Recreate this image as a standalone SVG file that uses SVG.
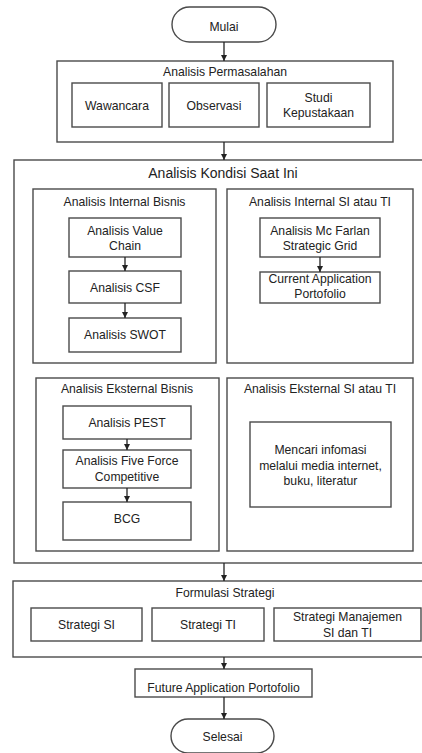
<svg xmlns="http://www.w3.org/2000/svg" width="422" height="753" viewBox="0 0 422 753">
<defs>
<marker id="ah" viewBox="0 0 10 10" refX="10" refY="5" markerWidth="6" markerHeight="6" orient="auto" markerUnits="userSpaceOnUse">
<path d="M0,0 L10,5 L0,10 Z" fill="#222"/>
</marker>
</defs>
<style>
rect{fill:#fff;stroke:#4a4a4a;stroke-width:1.4}
text{font-family:"Liberation Sans",Arial,sans-serif;font-size:12.2px;fill:#222;text-anchor:middle}
.big{font-size:14px}
.c line{stroke:#222;stroke-width:1.3;marker-end:url(#ah)}
</style>
<rect width="422" height="753" style="fill:#fff;stroke:none"/>
<g id="mulai"><rect x="172" y="7" width="104" height="35" rx="17.5"/><text x="224" y="31.3">Mulai</text></g>
<g id="permasalahan"><rect x="57" y="61" width="336" height="81"/><text x="225" y="76.3">Analisis Permasalahan</text></g>
<g id="wawancara"><rect x="72" y="83" width="90" height="44"/><text x="117" y="110.3">Wawancara</text></g>
<g id="observasi"><rect x="169" y="83" width="90" height="44"/><text x="214" y="110.3">Observasi</text></g>
<g id="studi"><rect x="267" y="83" width="103" height="44"/><text x="318.5" y="102.3">Studi</text><text x="318.5" y="117.3">Kepustakaan</text></g>
<g id="kondisi"><rect x="14" y="160" width="420" height="403"/><text class="big" x="223" y="178">Analisis Kondisi Saat Ini</text></g>
<g id="internal-bisnis"><rect x="33" y="189" width="183" height="174"/><text x="124.5" y="206.3">Analisis Internal Bisnis</text></g>
<g id="value-chain"><rect x="69" y="218" width="112" height="39"/><text x="125" y="235.3">Analisis Value</text><text x="125" y="250.3">Chain</text></g>
<g id="csf"><rect x="69" y="271" width="112" height="32"/><text x="125" y="292.3">Analisis CSF</text></g>
<g id="swot"><rect x="69" y="318" width="112" height="34"/><text x="125" y="339.3">Analisis SWOT</text></g>
<g id="internal-si"><rect x="227" y="189" width="186" height="174"/><text x="320" y="206.3">Analisis Internal SI atau TI</text></g>
<g id="mcfarlan"><rect x="260" y="218" width="120" height="39"/><text x="320" y="235.3">Analisis Mc Farlan</text><text x="320" y="250.3">Strategic Grid</text></g>
<g id="current-app"><rect x="260" y="272" width="120" height="31"/><text x="320" y="283.3">Current Application</text><text x="320" y="298.3">Portofolio</text></g>
<g id="eksternal-bisnis"><rect x="36" y="378" width="183" height="173"/><text x="127" y="393.3">Analisis Eksternal Bisnis</text></g>
<g id="pest"><rect x="63" y="406" width="128" height="33"/><text x="127" y="427.3">Analisis PEST</text></g>
<g id="five-force"><rect x="63" y="450" width="128" height="38"/><text x="127" y="465.3">Analisis Five Force</text><text x="127" y="481.3">Competitive</text></g>
<g id="bcg"><rect x="63" y="502" width="128" height="38"/><text x="127" y="523.3">BCG</text></g>
<g id="eksternal-si"><rect x="227" y="378" width="186" height="173"/><text x="320" y="393.3">Analisis Eksternal SI atau TI</text></g>
<g id="mencari"><rect x="250" y="422" width="141" height="85"/><text x="320.5" y="453.5">Mencari infomasi</text><text x="320.5" y="469.5">melalui media internet,</text><text x="320.5" y="484.5">buku, literatur</text></g>
<g id="formulasi"><rect x="13" y="581" width="420" height="76"/><text x="225" y="597.3">Formulasi Strategi</text></g>
<g id="strategi-si"><rect x="31" y="608" width="111" height="33"/><text x="86.5" y="629.3">Strategi SI</text></g>
<g id="strategi-ti"><rect x="152" y="608" width="112" height="33"/><text x="208" y="629.3">Strategi TI</text></g>
<g id="strategi-manajemen"><rect x="274" y="608" width="147" height="33"/><text x="347.5" y="621.3">Strategi Manajemen</text><text x="347.5" y="637.3">SI dan TI</text></g>
<g id="future"><rect x="135" y="669" width="177" height="28"/><text x="223.5" y="692.3">Future Application Portofolio</text></g>
<g id="selesai"><rect x="171" y="719" width="103" height="34" rx="17"/><text x="222.5" y="741.3">Selesai</text></g>
<g id="connectors" class="c">
<line x1="224" y1="42" x2="224" y2="61"/>
<line x1="224" y1="142" x2="224" y2="160"/>
<line x1="125" y1="257" x2="125" y2="271"/>
<line x1="125" y1="303" x2="125" y2="318"/>
<line x1="320" y1="257" x2="320" y2="272"/>
<line x1="127" y1="439" x2="127" y2="450"/>
<line x1="127" y1="488" x2="127" y2="502"/>
<line x1="224" y1="563" x2="224" y2="581"/>
<line x1="224" y1="657" x2="224" y2="669"/>
<line x1="224" y1="697" x2="224" y2="719"/>
</g>
</svg>
